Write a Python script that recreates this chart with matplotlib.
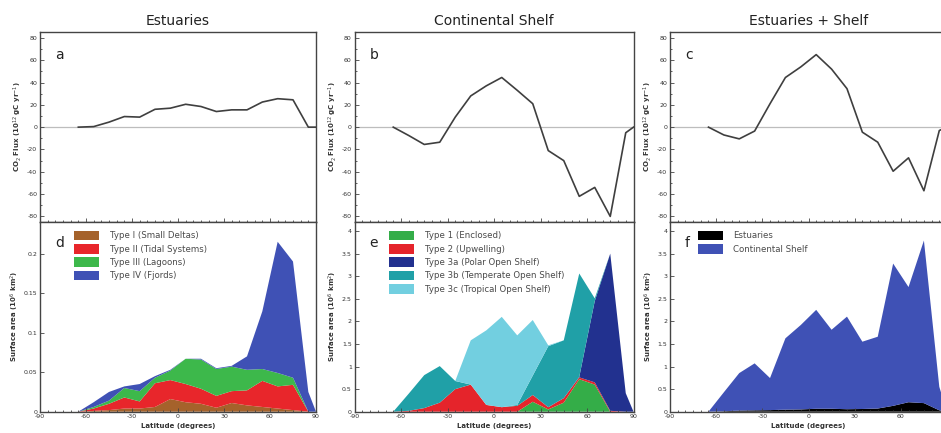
import matplotlib
matplotlib.use("Agg")
import matplotlib.pyplot as plt
from matplotlib.ticker import MultipleLocator, FormatStrFormatter

plt.rcParams['font.family'] = ['DejaVu Sans']
plt.rcParams['axes.unicode_minus'] = False

# Latitude band centres (degrees)
lat = [-65, -55, -45, -35, -25, -15, -5, 5, 15, 25, 35, 45, 55, 65, 75, 85, 90]

# CO2 flux (10^12 gC yr^-1)
flux_estuaries = [0, 0.5, 4.5, 9.5, 9, 16, 17, 20.5, 18.5, 14, 15.5, 15.5, 22.5, 25.5, 24.5, 0, 0]
flux_shelf = [0, -7.5, -15.5, -13.5, 9, 28, 37, 44.5, 33, 21, -21, -30, -62, -54, -80, -5, 0]
flux_total = [0, -7, -10.5, -3.5, 21, 44.5, 54, 65, 52, 34.5, -4.5, -13.5, -39.5, -27.5, -57, -3, 0]

# Estuarine surface area by type (10^6 km^2)
est_labels = ["Type I (Small Deltas)", "Type II (Tidal Systems)",
              "Type III (Lagoons)", "Type IV (Fjords)"]
est_type1 = [0, 0.001, 0.002, 0.004, 0.004, 0.006, 0.016, 0.012, 0.010, 0.005, 0.011, 0.008, 0.006, 0.004, 0.002, 0, 0]
est_type2 = [0, 0.003, 0.008, 0.014, 0.009, 0.030, 0.024, 0.023, 0.019, 0.015, 0.015, 0.019, 0.033, 0.028, 0.032, 0, 0]
est_type3 = [0, 0.002, 0.004, 0.012, 0.013, 0.007, 0.012, 0.032, 0.037, 0.034, 0.031, 0.026, 0.015, 0.017, 0.009, 0, 0]
est_type4 = [0, 0.006, 0.011, 0.002, 0.009, 0.002, 0.001, 0, 0.001, 0.001, 0.001, 0.017, 0.073, 0.166, 0.147, 0.025, 0]
est_colors = ["#a5622b", "#e8262b", "#3db84b", "#3f51b5"]

# Continental shelf surface area by type (10^6 km^2)
shelf_labels = ["Type 1 (Enclosed)", "Type 2 (Upwelling)", "Type 3a (Polar Open Shelf)",
                "Type 3b (Temperate Open Shelf)", "Type 3c (Tropical Open Shelf)"]
shelf_type1 = [0, 0, 0, 0, 0, 0, 0, 0, 0, 0.22, 0.05, 0.2, 0.72, 0.6, 0, 0, 0]
shelf_type2 = [0, 0.02, 0.08, 0.2, 0.5, 0.6, 0.15, 0.1, 0.13, 0.15, 0.05, 0.1, 0.04, 0.05, 0.02, 0, 0]
shelf_type3a = [0, 0, 0, 0, 0, 0, 0, 0, 0, 0, 0, 0, 0.01, 1.8, 3.48, 0.41, 0]
shelf_type3b = [0, 0.38, 0.73, 0.81, 0.18, 0, 0, 0, 0.02, 0.43, 1.35, 1.28, 2.29, 0.06, 0, 0, 0]
shelf_type3c = [0, 0, 0, 0, 0, 0.98, 1.65, 2.0, 1.54, 1.23, 0.02, 0, 0, 0, 0, 0, 0]
shelf_colors = ["#34ad48", "#e5242b", "#22318f", "#20a0a7", "#72cfe0"]

# Combined surface area (10^6 km^2)
comb_labels = ["Estuaries", "Continental Shelf"]
area_estuaries = [0, 0.01, 0.025, 0.03, 0.035, 0.045, 0.05, 0.065, 0.065, 0.055, 0.06, 0.07, 0.13, 0.21, 0.19, 0.03, 0]
area_shelf = [0, 0.42, 0.83, 1.04, 0.71, 1.58, 1.87, 2.19, 1.75, 2.05, 1.49, 1.59, 3.15, 2.55, 3.6, 0.52, 0]
comb_colors = ["#000000", "#3f51b5"]

titles = ["Estuaries", "Continental Shelf", "Estuaries + Shelf"]
letters_top = ["a", "b", "c"]
letters_bot = ["d", "e", "f"]

W, H = 941, 433
fig = plt.figure(figsize=(W / 100, H / 100), dpi=100)

lefts = [40, 354.5, 670]
widths = [276, 279, 277]
row_h = 189.7 / H
top_bottom = 211 / H
bot_bottom = 21.3 / H

spine_col = "#444444"
text_col = "#333333"


def style(ax, col):
    for s in ax.spines.values():
        s.set_color(spine_col)
        s.set_linewidth(1.0)
    ax.set_xlim(-90, 90)
    if col == 2:
        # the right-hand column runs past the figure edge; no label at 90
        ax.set_xticks([-90, -60, -30, 0, 30, 60])
    else:
        ax.xaxis.set_major_locator(MultipleLocator(30))
    ax.xaxis.set_minor_locator(MultipleLocator(5))
    ax.tick_params(which="both", direction="in", colors=spine_col,
                   labelsize=4.5, labelcolor=text_col, width=0.6)
    ax.tick_params(which="major", length=3)
    ax.tick_params(which="minor", length=1.5)
    ax.tick_params(axis="x", pad=2)
    ax.tick_params(axis="y", pad=2)


flux_series = [flux_estuaries, flux_shelf, flux_total]
for i in range(3):
    ax = fig.add_axes([lefts[i] / W, top_bottom, widths[i] / W, row_h])
    style(ax, i)
    ax.axhline(0, color="#bdbdbd", lw=0.9, zorder=1)
    ax.plot(lat, flux_series[i], color="#3f3f3f", lw=1.2, zorder=2)
    ax.set_ylim(-85, 85)
    ax.yaxis.set_major_locator(MultipleLocator(20))
    ax.yaxis.set_minor_locator(MultipleLocator(10))
    ax.tick_params(axis="x", labelbottom=False)
    ax.set_ylabel("CO$_2$ Flux (10$^{12}$ gC yr$^{-1}$)", fontsize=5,
                  fontweight="bold", color=text_col, labelpad=2)
    ax.set_title(titles[i], fontsize=10, color="#222222", pad=5)
    ax.text(0.054, 0.88, letters_top[i], transform=ax.transAxes,
            fontsize=10, color="#222222", va="center", ha="left")

# Bottom row: stacked surface areas
stacks = [
    ([est_type1, est_type2, est_type3, est_type4], est_labels, est_colors, 0.24, 0.05),
    ([shelf_type1, shelf_type2, shelf_type3a, shelf_type3b, shelf_type3c], shelf_labels, shelf_colors, 4.2, 0.5),
    ([area_estuaries, area_shelf], comb_labels, comb_colors, 4.2, 0.5),
]
for i, (series, labels, colors, ytop, ystep) in enumerate(stacks):
    ax = fig.add_axes([lefts[i] / W, bot_bottom, widths[i] / W, row_h])
    style(ax, i)
    ax.stackplot(lat, *series, labels=labels, colors=colors, linewidth=0)
    ax.set_ylim(0, ytop)
    ax.yaxis.set_major_locator(MultipleLocator(ystep))
    ax.yaxis.set_major_formatter(FormatStrFormatter("%g"))
    ax.set_xlabel("Latitude (degrees)", fontsize=5, fontweight="bold",
                  color=text_col, labelpad=2.5)
    ax.set_ylabel("Surface area (10$^6$ km$^2$)", fontsize=5,
                  fontweight="bold", color=text_col, labelpad=2)
    ax.text(0.054, 0.89, letters_bot[i], transform=ax.transAxes,
            fontsize=10, color="#222222", va="center", ha="left")
    leg_x = 0.10 if i < 2 else 0.075
    ax.legend(loc="upper left", bbox_to_anchor=(leg_x, 0.99), frameon=False,
              fontsize=6.2, handlelength=2.9, handleheight=1.35,
              labelspacing=0.42, handletextpad=1.2, borderpad=0.3,
              labelcolor="#4a4a4a")

fig.savefig("out.png", dpi=100)
